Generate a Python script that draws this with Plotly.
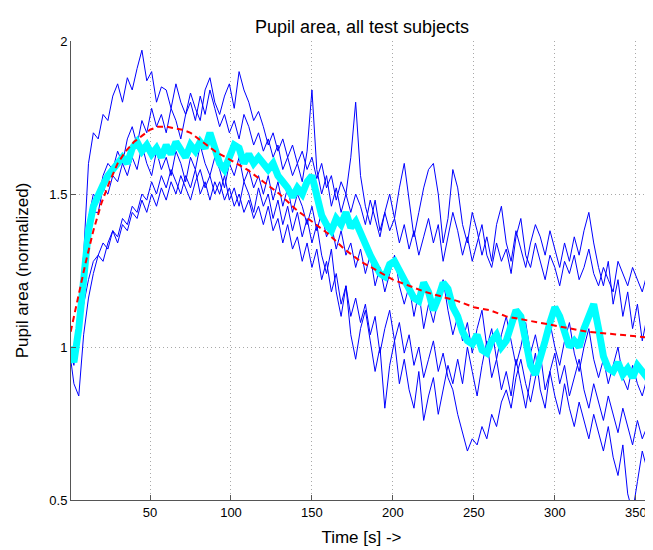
import plotly.graph_objects as go

# time grid (s)
time_s = list(range(0, 361, 3))

subj1 = [1.00, 0.98, 1.08, 1.30, 1.60, 1.70, 1.68, 1.76, 1.74, 1.82,
         1.86, 1.80, 1.88, 1.84, 1.91, 1.97, 1.87, 1.90, 1.80, 1.85,
         1.84, 1.78, 1.86, 1.80, 1.76, 1.83, 1.78, 1.74, 1.84, 1.88,
         1.80, 1.76, 1.82, 1.86, 1.78, 1.90, 1.84, 1.80, 1.74, 1.77,
         1.72, 1.66, 1.70, 1.64, 1.68, 1.62, 1.66, 1.60, 1.64, 1.58,
         1.62, 1.55, 1.60, 1.52, 1.56, 1.48, 1.54, 1.50, 1.44, 1.50,
         1.46, 1.40, 1.48, 1.42, 1.36, 1.44, 1.38, 1.42, 1.34, 1.40,
         1.32, 1.38, 1.30, 1.36, 1.42, 1.34, 1.40, 1.28, 1.36, 1.44,
         1.38, 1.30, 1.36, 1.28, 1.34, 1.40, 1.30, 1.26, 1.34, 1.28,
         1.32, 1.24, 1.36, 1.42, 1.30, 1.26, 1.34, 1.28, 1.22, 1.30,
         1.26, 1.20, 1.28, 1.24, 1.30, 1.22, 1.26, 1.32, 1.24, 1.20,
         1.26, 1.22, 1.18, 1.28, 1.24, 1.20, 1.26, 1.22, 1.18, 1.24,
         1.21]

subj2 = [1.00, 0.96, 1.12, 1.30, 1.42, 1.50, 1.48, 1.56, 1.60, 1.58,
         1.64, 1.60, 1.68, 1.72, 1.66, 1.74, 1.70, 1.78, 1.72, 1.76,
         1.70, 1.78, 1.74, 1.68, 1.76, 1.80, 1.74, 1.82, 1.76, 1.84,
         1.78, 1.72, 1.76, 1.70, 1.74, 1.68, 1.76, 1.72, 1.66, 1.70,
         1.64, 1.68, 1.62, 1.66, 1.58, 1.62, 1.56, 1.60, 1.54, 1.64,
         1.84, 1.58, 1.50, 1.56, 1.46, 1.52, 1.44, 1.50, 1.62, 1.80,
         1.56, 1.46, 1.40, 1.48, 1.38, 1.44, 1.50, 1.42, 1.52, 1.60,
         1.48, 1.36, 1.44, 1.52, 1.58, 1.60, 1.50, 1.34, 1.42, 1.58,
         1.52, 1.40, 1.34, 1.44, 1.38, 1.30, 1.36, 1.28, 1.40, 1.46,
         1.34, 1.28, 1.38, 1.32, 1.26, 1.34, 1.40, 1.36, 1.30, 1.38,
         1.32, 1.26, 1.34, 1.28, 1.36, 1.30, 1.38, 1.44, 1.34, 1.26,
         1.20, 1.28, 1.14, 1.22, 1.10, 1.18, 1.06, 1.14, 1.02, 1.10,
         1.05]

subj3 = [1.00, 0.94, 1.10, 1.26, 1.36, 1.44, 1.44, 1.52, 1.50, 1.56,
         1.54, 1.60, 1.56, 1.62, 1.58, 1.66, 1.60, 1.56, 1.64, 1.58,
         1.62, 1.56, 1.64, 1.60, 1.54, 1.62, 1.58, 1.66, 1.60, 1.56,
         1.62, 1.58, 1.52, 1.60, 1.56, 1.62, 1.54, 1.58, 1.52, 1.56,
         1.50, 1.56, 1.48, 1.54, 1.46, 1.52, 1.44, 1.50, 1.46, 1.40,
         1.46, 1.38, 1.44, 1.36, 1.40, 1.32, 1.38, 1.30, 1.34, 1.26,
         1.32, 1.24, 1.30, 1.20, 1.26, 1.18, 1.24, 1.30, 1.20, 1.14,
         1.20, 1.10, 1.18, 1.06, 1.14, 1.08, 1.16, 1.22, 1.12, 1.04,
         1.10, 1.02, 1.08, 0.98, 1.06, 1.12, 1.00, 1.06, 0.96, 1.04,
         1.10, 1.02, 0.94, 1.00, 1.08, 0.98, 1.04, 0.96, 1.02, 1.08,
         1.00, 0.94, 1.02, 1.08, 0.98, 0.92, 1.00, 1.06, 0.96, 0.90,
         0.96, 0.88, 0.94, 1.00, 0.90, 0.86, 0.94, 0.88, 0.84, 0.90,
         0.82]

subj4 = [1.00, 0.88, 0.84, 1.04, 1.16, 1.24, 1.30, 1.28, 1.34, 1.38,
         1.36, 1.42, 1.40, 1.46, 1.44, 1.50, 1.48, 1.54, 1.50, 1.56,
         1.52, 1.58, 1.54, 1.50, 1.56, 1.52, 1.58, 1.50, 1.54, 1.48,
         1.54, 1.50, 1.56, 1.48, 1.52, 1.46, 1.54, 1.50, 1.44, 1.52,
         1.46, 1.50, 1.42, 1.48, 1.40, 1.46, 1.38, 1.44, 1.36, 1.42,
         1.34, 1.40, 1.30, 1.24, 1.32, 1.18, 1.10, 1.20, 1.04, 0.96,
         1.06, 1.12, 1.02, 0.92, 1.00, 0.80, 0.94, 1.02, 0.88, 0.96,
         0.86, 0.80, 0.92, 0.76, 0.84, 0.90, 0.78, 0.86, 0.94, 0.88,
         0.96, 0.88, 1.00, 0.92, 0.84, 0.94, 1.02, 0.90, 0.96, 0.86,
         0.92, 0.84, 0.96, 0.88, 0.80, 0.90, 0.98, 0.86, 0.80, 0.92,
         0.84, 0.78, 0.88, 0.80, 0.74, 0.82, 0.76, 0.70, 0.78, 0.72,
         0.66, 0.74, 0.64, 0.58, 0.68, 0.52, 0.46, 0.56, 0.66, 0.60,
         0.62]

subj5 = [1.00, 0.95, 1.02, 1.14, 1.22, 1.28, 1.30, 1.34, 1.32, 1.38,
         1.34, 1.40, 1.38, 1.44, 1.42, 1.48, 1.44, 1.50, 1.46, 1.52,
         1.48, 1.54, 1.50, 1.56, 1.52, 1.48, 1.54, 1.58, 1.52, 1.56,
         1.50, 1.54, 1.48, 1.52, 1.46, 1.50, 1.44, 1.48, 1.42, 1.46,
         1.40, 1.46, 1.38, 1.42, 1.34, 1.40, 1.32, 1.36, 1.28, 1.34,
         1.26, 1.32, 1.22, 1.28, 1.18, 1.24, 1.14, 1.20, 1.10, 1.16,
         1.08, 1.14, 1.04, 1.10, 0.98, 1.06, 1.12, 1.02, 1.08, 0.98,
         1.04, 0.94, 1.00, 0.90, 0.96, 1.02, 0.92, 0.98, 0.90, 0.86,
         0.78, 0.72, 0.66, 0.70, 0.68, 0.74, 0.70, 0.78, 0.74, 0.82,
         0.86, 0.80, 0.90, 0.96, 0.88, 0.82, 0.90, 0.98, 0.86, 0.92,
         0.98, 0.88, 0.94, 0.84, 0.90, 0.96, 0.86, 0.80, 0.88, 0.82,
         0.76, 0.84, 0.78, 0.72, 0.80, 0.74, 0.68, 0.76, 0.70, 0.74,
         0.70]

mean_area = [1.00, 0.95, 1.06, 1.24, 1.38, 1.46, 1.50, 1.53, 1.56, 1.58,
             1.60, 1.62, 1.60, 1.65, 1.67, 1.64, 1.66, 1.63, 1.65, 1.62,
             1.66, 1.63, 1.67, 1.64, 1.62, 1.66, 1.64, 1.67, 1.65, 1.70,
             1.64, 1.60, 1.58, 1.62, 1.66, 1.65, 1.60, 1.63, 1.60, 1.62,
             1.60, 1.58, 1.60, 1.56, 1.54, 1.52, 1.49, 1.52, 1.50, 1.54,
             1.56, 1.50, 1.43, 1.40, 1.38, 1.42, 1.40, 1.44, 1.39, 1.41,
             1.37, 1.33, 1.30, 1.27, 1.24, 1.23, 1.27, 1.28, 1.25, 1.22,
             1.20, 1.16, 1.15, 1.21, 1.18, 1.12, 1.16, 1.21, 1.19, 1.13,
             1.10, 1.05, 1.02, 1.01, 1.04, 0.99, 0.98, 1.02, 1.04, 1.00,
             1.02, 1.08, 1.12, 1.10, 1.02, 0.94, 0.91, 0.96, 1.02, 1.08,
             1.13, 1.10, 1.04, 1.00, 1.02, 1.00, 1.06, 1.10, 1.14, 1.06,
             0.97, 0.93, 0.92, 0.95, 0.91, 0.93, 0.90, 0.94, 0.92, 0.90,
             0.87]

fit_time = [1, 5, 10, 15, 20, 25, 30, 35, 40, 45, 50, 55, 60, 65, 70, 75, 80,
            90, 100, 110, 120, 130, 140, 150, 160, 170, 180, 190, 200, 210,
            220, 230, 240, 250, 260, 270, 280, 290, 300, 310, 320, 330, 340,
            350, 360]
fit_area = [1.05, 1.15, 1.27, 1.38, 1.47, 1.54, 1.60, 1.64, 1.67, 1.69, 1.71,
            1.72, 1.72, 1.715, 1.71, 1.70, 1.68, 1.64, 1.61, 1.58, 1.54, 1.50,
            1.45, 1.41, 1.37, 1.32, 1.28, 1.25, 1.22, 1.20, 1.18, 1.165, 1.15,
            1.13, 1.12, 1.10, 1.09, 1.08, 1.07, 1.06, 1.05, 1.045, 1.04,
            1.035, 1.03]

x_ticks = [50, 100, 150, 200, 250, 300, 350]
y_ticks = [0.5, 1, 1.5, 2]
y_tick_text = ["0.5", "1", "1.5", "2"]

fig = go.Figure()
for s in [subj1, subj2, subj3, subj4, subj5]:
    fig.add_trace(go.Scatter(x=time_s, y=s, mode="lines",
                             line=dict(color="#0000FF", width=1),
                             showlegend=False, hoverinfo="skip"))
fig.add_trace(go.Scatter(x=time_s, y=mean_area, mode="lines",
                         line=dict(color="#00FFFF", width=7),
                         showlegend=False))
fig.add_trace(go.Scatter(x=fit_time, y=fit_area, mode="lines",
                         line=dict(color="#FF0000", width=2, dash="6px,4px"),
                         showlegend=False))

# page body has an 8px margin; figure sized to fit the 653x550 window
W, H = 645, 542
font_family = "Liberation Sans, Arial, sans-serif"
grid_style = dict(showgrid=True, gridcolor="#a8a8a8", griddash="1px,3px",
                  gridwidth=1, zeroline=False)
fig.update_layout(
    width=W, height=H, autosize=False,
    margin=dict(l=63, r=1, t=33, b=50),
    paper_bgcolor="white", plot_bgcolor="white",
    font=dict(family=font_family, size=13, color="black"),
    title=dict(text="Pupil area, all test subjects", x=(362 - 8) / W,
               xanchor="center", y=1 - 19 / H, yanchor="middle",
               font=dict(size=18, family=font_family, color="black")),
    xaxis=dict(range=[1.2, 360], tickvals=x_ticks, ticks="inside", ticklen=5,
               tickcolor="#555555", showline=True, linecolor="#555555",
               linewidth=1, mirror=False, tickfont=dict(size=13),
               title=dict(text="Time [s] ->", standoff=12,
                          font=dict(size=17)),
               **grid_style),
    yaxis=dict(range=[0.5, 2], tickvals=y_ticks, ticktext=y_tick_text,
               ticks="inside", ticklen=5, tickcolor="#555555", showline=True,
               linecolor="#555555", linewidth=1, mirror=False,
               tickfont=dict(size=13),
               title=dict(text="Pupil area (normalized)", standoff=16,
                          font=dict(size=17)),
               **grid_style),
)

fig.write_html("out.html")
